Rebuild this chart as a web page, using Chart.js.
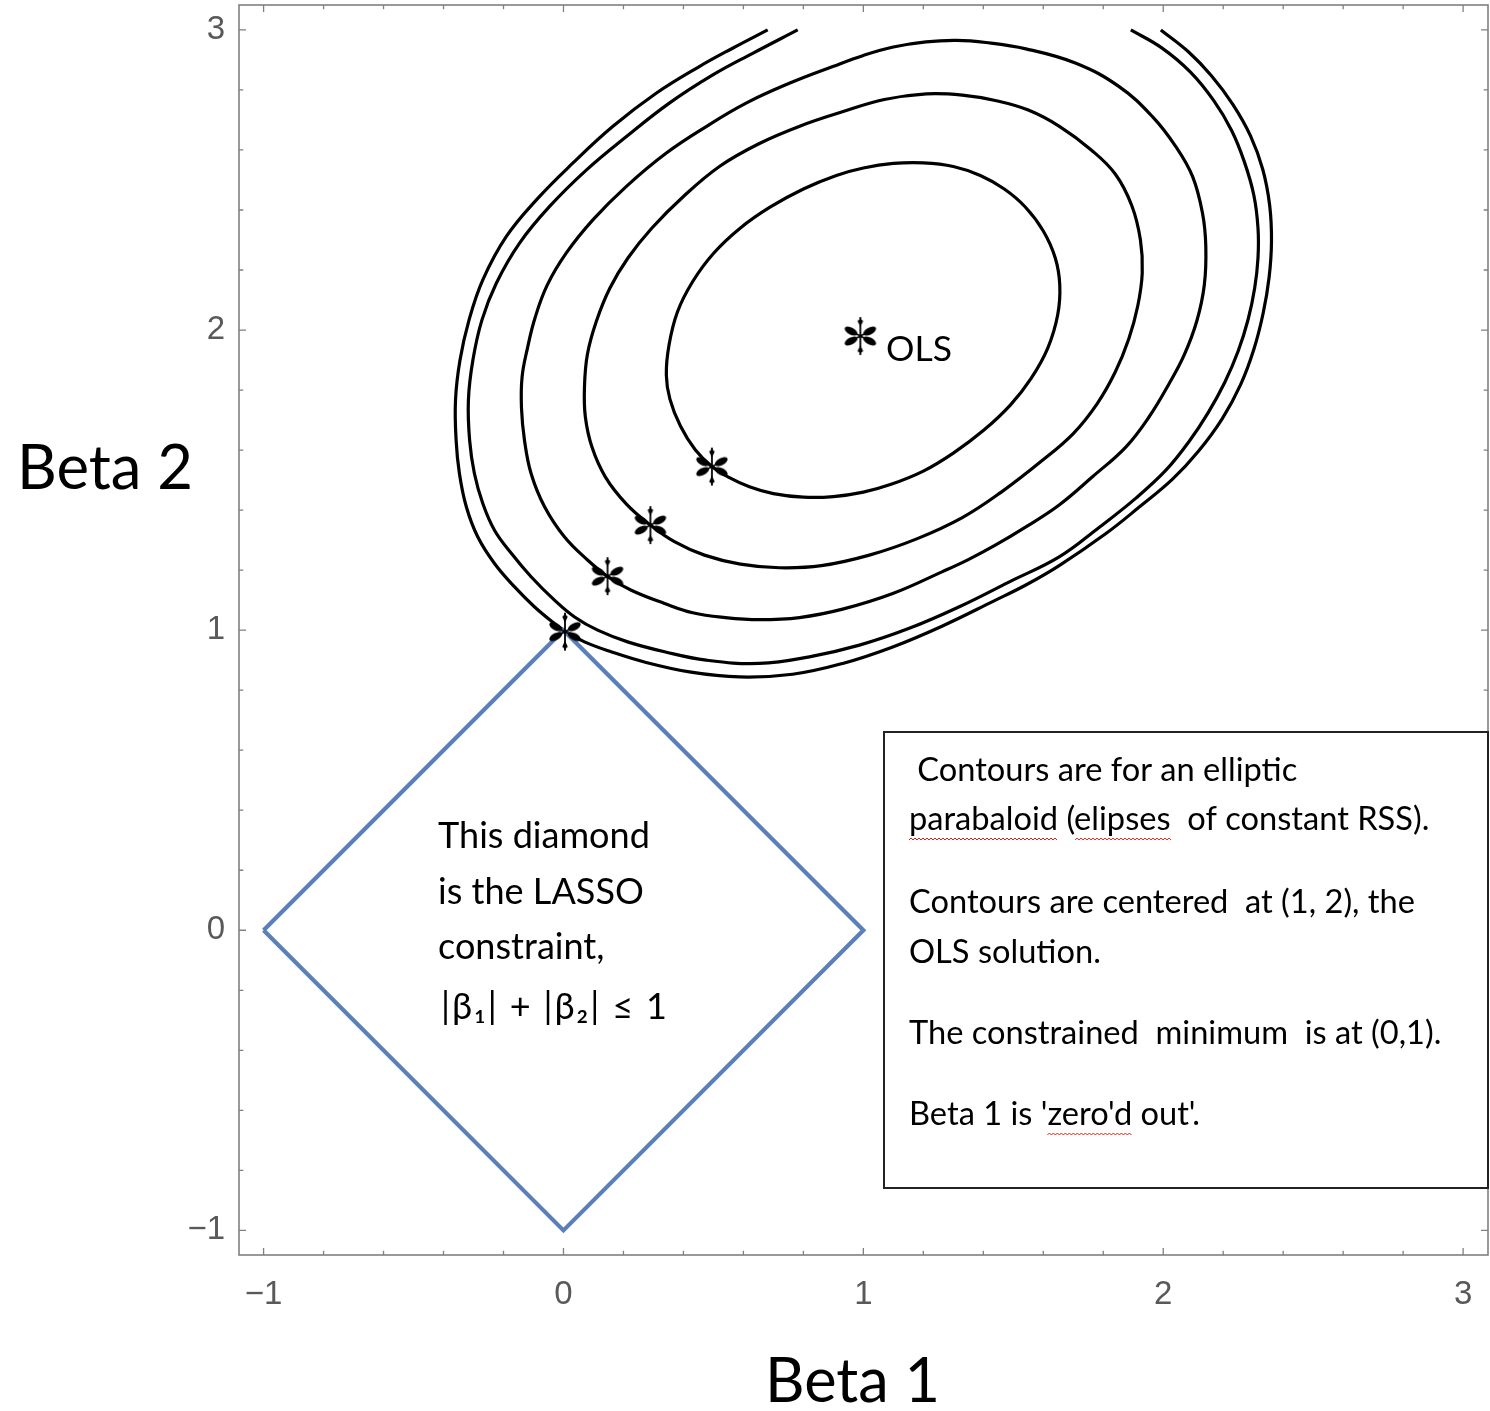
<!DOCTYPE html>
<html>
<head>
<meta charset="utf-8">
<script src="https://cdn.jsdelivr.net/npm/chart.js@4.4.1/dist/chart.umd.min.js"></script>
<style>
html,body{margin:0;padding:0;background:#ffffff;}
#wrap{position:relative;width:1490px;height:1411px;}
canvas{display:block;}
</style>
</head>
<body>
<div id="wrap"><canvas id="c" width="1490" height="1411"></canvas></div>
<script>
// ---------- data (in Beta units) ----------
const axisMin = -1.082;
const axisMax = 3.083;
const tickStep = 0.2;
const majorTicks = [-1, 0, 1, 2, 3];

// innermost RSS contour (closed)
const contour1 = [[0.343,1.85],[0.352,1.95],[0.38,2.06],[0.43,2.16],[0.5,2.255],[0.59,2.34],[0.69,2.41],[0.8,2.47],[0.91,2.515],[1.0,2.54],[1.1,2.555],[1.2,2.557],[1.3,2.545],[1.39,2.515],[1.47,2.47],[1.54,2.41],[1.6,2.33],[1.64,2.24],[1.655,2.15],[1.648,2.05],[1.615,1.94],[1.56,1.84],[1.49,1.75],[1.4,1.665],[1.3,1.59],[1.2,1.53],[1.09,1.485],[1.0,1.46],[0.9,1.445],[0.8,1.443],[0.7,1.455],[0.62,1.478],[0.55,1.51],[0.495,1.545],[0.44,1.6],[0.39,1.68],[0.355,1.77]];
// second contour (closed)
const contour2 = [[0.07,1.81],[0.08,1.92],[0.11,2.03],[0.155,2.14],[0.215,2.24],[0.295,2.34],[0.4,2.445],[0.52,2.545],[0.65,2.62],[0.79,2.68],[0.93,2.727],[1.07,2.768],[1.21,2.787],[1.33,2.783],[1.44,2.765],[1.55,2.733],[1.655,2.678],[1.76,2.6],[1.84,2.52],[1.895,2.415],[1.924,2.3],[1.93,2.19],[1.915,2.08],[1.885,1.97],[1.84,1.86],[1.78,1.755],[1.7,1.655],[1.59,1.56],[1.46,1.46],[1.33,1.375],[1.18,1.305],[1.02,1.25],[0.86,1.215],[0.72,1.208],[0.59,1.22],[0.47,1.25],[0.37,1.295],[0.29,1.35],[0.21,1.42],[0.14,1.51],[0.095,1.61],[0.073,1.71]];
// third contour (closed)
const contour3 = [[-0.138,1.844],[-0.12,1.94],[-0.095,2.04],[-0.055,2.148],[0.009,2.256],[0.098,2.367],[0.209,2.478],[0.342,2.589],[0.476,2.678],[0.609,2.756],[0.753,2.822],[0.898,2.878],[1.0,2.915],[1.1,2.943],[1.209,2.96],[1.31,2.965],[1.409,2.958],[1.542,2.937],[1.709,2.889],[1.853,2.811],[1.964,2.711],[2.042,2.611],[2.098,2.511],[2.131,2.389],[2.142,2.278],[2.137,2.15],[2.112,2.03],[2.07,1.917],[2.02,1.822],[1.953,1.711],[1.876,1.611],[1.764,1.511],[1.653,1.417],[1.542,1.344],[1.44,1.283],[1.35,1.235],[1.264,1.195],[1.098,1.122],[0.931,1.07],[0.787,1.042],[0.653,1.035],[0.54,1.042],[0.431,1.058],[0.337,1.089],[0.226,1.133],[0.148,1.178],[0.081,1.233],[0.003,1.311],[-0.063,1.411],[-0.108,1.522],[-0.13,1.633],[-0.14,1.74]];
// fourth contour (open, cut at Beta 2 = 3)
const contour4 = [[0.781,3.0],[0.631,2.922],[0.498,2.85],[0.353,2.756],[0.209,2.644],[0.076,2.533],[-0.047,2.411],[-0.147,2.289],[-0.224,2.156],[-0.272,2.033],[-0.302,1.9],[-0.317,1.767],[-0.313,1.633],[-0.297,1.522],[-0.269,1.422],[-0.23,1.333],[-0.174,1.256],[-0.108,1.178],[-0.03,1.1],[0.037,1.044],[0.114,1.0],[0.214,0.961],[0.337,0.928],[0.476,0.9],[0.653,0.889],[0.82,0.911],[0.987,0.95],[1.153,1.006],[1.32,1.078],[1.487,1.161],[1.653,1.244],[1.787,1.343],[1.909,1.44],[2.009,1.533],[2.085,1.627],[2.15,1.725],[2.205,1.825],[2.25,1.93],[2.283,2.035],[2.305,2.14],[2.316,2.24],[2.316,2.34],[2.302,2.45],[2.27,2.562],[2.228,2.665],[2.168,2.765],[2.09,2.86],[1.995,2.94],[1.892,3.0]];
// outermost contour (open, cut at Beta 2 = 3)
const contour5 = [[0.681,3.0],[0.564,2.939],[0.453,2.878],[0.309,2.789],[0.164,2.678],[0.031,2.556],[-0.091,2.433],[-0.191,2.311],[-0.269,2.167],[-0.315,2.033],[-0.345,1.9],[-0.36,1.767],[-0.358,1.633],[-0.347,1.522],[-0.324,1.411],[-0.286,1.311],[-0.23,1.222],[-0.163,1.144],[-0.097,1.078],[-0.03,1.022],[0.009,0.994],[0.07,0.961],[0.159,0.928],[0.27,0.894],[0.42,0.861],[0.587,0.844],[0.764,0.853],[0.931,0.889],[1.098,0.944],[1.264,1.014],[1.431,1.095],[1.545,1.152],[1.653,1.215],[1.809,1.322],[1.92,1.41],[2.031,1.503],[2.118,1.597],[2.197,1.705],[2.258,1.818],[2.302,1.935],[2.333,2.055],[2.353,2.175],[2.361,2.295],[2.355,2.415],[2.332,2.535],[2.291,2.647],[2.232,2.752],[2.16,2.848],[2.083,2.928],[1.992,3.0]];
// LASSO diamond |b1|+|b2| <= 1
const diamondX = [-1, 0, 1, 0, -1];
const diamondY = [0, 1, 0, -1, 0];
// asterisk markers: OLS solution and tangent points
const starX = [0.99, 0.495, 0.29, 0.147, 0.005];
const starY = [1.98, 1.545, 1.35, 1.18, 0.995];

// ---------- texts ----------
const xTitle = 'Beta 1';
const yTitle = 'Beta 2';
const olsLabel = 'OLS';
const diamondLines = ['This diamond', 'is the LASSO', 'constraint,', '|\u03B2\u2081| + |\u03B2\u2082| \u2264 1'];
const boxLines = [' Contours are for an elliptic', 'parabaloid (elipses  of constant RSS).', 'Contours are centered  at (1, 2), the', 'OLS solution.', 'The constrained  minimum  is at (0,1).', "Beta 1 is 'zero'd out'."];

// plot frame in page pixels
const AREA = {left: 239, right: 1488, top: 5, bottom: 1255};

const toXY = arr => arr.map(p => ({x: p[0], y: p[1]}));
// closed curve: wrap one point on each side; the two one-sided end segments are hidden
const closedXY = arr => toXY([arr[arr.length - 1]].concat(arr, [arr[0], arr[1]]));
const zip = (xs, ys) => xs.map((v, i) => ({x: v, y: ys[i]}));

// asterisk glyph used as point style
function makeStar() {
  const c = document.createElement('canvas');
  c.width = 46; c.height = 46;
  const g = c.getContext('2d');
  g.translate(23, 23);
  g.fillStyle = '#000'; g.strokeStyle = '#000';
  const arms = [90, 270, 28, 152, 208, 332];
  arms.forEach((a, i) => {
    g.save();
    g.rotate(-a * Math.PI / 180);
    g.lineWidth = 1.8;
    g.beginPath(); g.moveTo(0, 0); g.lineTo(i < 2 ? 19 : 17, 0); g.stroke();
    g.beginPath();
    if (i < 2) {
      g.moveTo(9, 0); g.lineTo(15, -2.8); g.lineTo(17.5, 0); g.lineTo(15, 2.8); g.closePath();
    } else {
      g.ellipse(10.5, 0, 7, 3.5, 0, 0, Math.PI * 2);
    }
    g.fill();
    g.restore();
  });
  return c;
}
const starImg = makeStar();

const FONT = "Lato, 'Noto Sans', 'DejaVu Sans', sans-serif";
function fit(ctx, text, target, weight) {
  ctx.font = (weight || 'normal') + ' 100px ' + FONT;
  return 100 * target / ctx.measureText(text).width;
}
function squiggle(ctx, x0, x1, y) {
  ctx.save();
  ctx.strokeStyle = '#e0201c';
  ctx.lineWidth = 1;
  ctx.beginPath();
  let up = true;
  ctx.moveTo(x0, y);
  for (let x = x0 + 2; x <= x1; x += 2) { ctx.lineTo(x, up ? y - 2 : y); up = !up; }
  ctx.stroke();
  ctx.restore();
}

// pin the plot frame exactly where the reference has it
const fixArea = {
  id: 'fixArea',
  afterLayout(chart) {
    const a = chart.chartArea, x = chart.scales.x, y = chart.scales.y;
    a.left = AREA.left; a.right = AREA.right; a.top = AREA.top; a.bottom = AREA.bottom;
    a.width = a.right - a.left; a.height = a.bottom - a.top;
    x.left = AREA.left; x.right = AREA.right; x.width = x.right - x.left; x.configure();
    y.top = AREA.top; y.bottom = AREA.bottom; y.height = y.bottom - y.top; y.configure();
  }
};

const decor = {
  id: 'decor',
  afterDraw(chart) {
    const {ctx, chartArea: a, scales} = chart;
    const sx = scales.x, sy = scales.y;
    ctx.save();
    // frame
    ctx.strokeStyle = '#808080';
    ctx.lineWidth = 1.6;
    ctx.strokeRect(a.left, a.top, a.right - a.left, a.bottom - a.top);
    // inward ticks on all four sides
    ctx.lineWidth = 1.3;
    const isMajor = v => Math.abs(v - Math.round(v)) < 1e-6;
    ctx.beginPath();
    sx.ticks.forEach(t => {
      const p = sx.getPixelForValue(t.value);
      const L = isMajor(t.value) ? 7 : 4.3;
      ctx.moveTo(p, a.bottom); ctx.lineTo(p, a.bottom - L);
      ctx.moveTo(p, a.top); ctx.lineTo(p, a.top + L);
    });
    sy.ticks.forEach(t => {
      const p = sy.getPixelForValue(t.value);
      const L = isMajor(t.value) ? 7 : 4.3;
      ctx.moveTo(a.left, p); ctx.lineTo(a.left + L, p);
      ctx.moveTo(a.right, p); ctx.lineTo(a.right - L, p);
    });
    ctx.stroke();

    ctx.fillStyle = '#000';
    ctx.textBaseline = 'alphabetic';
    ctx.textAlign = 'left';
    // axis titles
    let s = fit(ctx, yTitle, 176);
    ctx.font = s + 'px ' + FONT;
    ctx.fillText(yTitle, 17, 489);
    s = fit(ctx, xTitle, 175);
    ctx.font = s + 'px ' + FONT;
    ctx.fillText(xTitle, 765, 1402);

    // OLS label
    s = fit(ctx, olsLabel, 66);
    ctx.font = s + 'px ' + FONT;
    ctx.fillText(olsLabel, 886, 361);

    // diamond text
    s = fit(ctx, diamondLines[0], 212);
    ctx.font = s + 'px ' + FONT;
    const dBase = [848, 904, 959, 1019];
    for (let i = 0; i < 3; i++) ctx.fillText(diamondLines[i], 438, dBase[i]);
    const last = diamondLines[3];
    const lw = ctx.measureText(last).width;
    const extra = (226 - lw) / (Array.from(last).length - 1);
    ctx.letterSpacing = extra.toFixed(2) + 'px';
    ctx.fillText(last, 441, dBase[3]);
    ctx.letterSpacing = '0px';

    // text box
    const bx = 884, by = 732, bw = 1488 - 884, bh = 1188 - 732;
    ctx.fillStyle = '#fff';
    ctx.fillRect(bx, by, bw, bh);
    ctx.strokeStyle = '#222';
    ctx.lineWidth = 2;
    ctx.strokeRect(bx, by, bw, bh);
    const targets = [388, 521, 507, 182, 529, 297];
    const sizes = boxLines.map((t, i) => fit(ctx, t, targets[i])).sort((p, q) => p - q);
    const bs = (sizes[2] + sizes[3]) / 2;
    ctx.font = bs + 'px ' + FONT;
    ctx.fillStyle = '#000';
    const bBase = [781, 830, 913, 963, 1044, 1125];
    boxLines.forEach((t, i) => ctx.fillText(t, 909, bBase[i]));
    // spell-check squiggles
    const w = t => ctx.measureText(t).width;
    squiggle(ctx, 909, 909 + w('parabaloid'), bBase[1] + 10);
    const e0 = 909 + w('parabaloid (');
    squiggle(ctx, e0, e0 + w('elipses'), bBase[1] + 10);
    const z0 = 909 + w("Beta 1 is '");
    squiggle(ctx, z0, z0 + w("zero'd"), bBase[5] + 10);
    ctx.restore();
  }
};

const tickLabel = v => {
  const r = Math.round(v);
  if (Math.abs(v - r) > 1e-6 || !majorTicks.includes(r)) return '';
  return r < 0 ? '\u2212' + Math.abs(r) : String(r);
};

function contourDataset(label, arr, closed) {
  const data = closed ? closedXY(arr) : toXY(arr);
  const lastSeg = data.length - 2;
  return {
    label, data, showLine: true, borderColor: '#000', borderWidth: 3.2, pointRadius: 0,
    tension: 0.4, fill: false, borderJoinStyle: 'round', borderCapStyle: 'butt',
    segment: closed ? {borderColor: c => (c.p0DataIndex === 0 || c.p0DataIndex === lastSeg) ? 'rgba(0,0,0,0)' : undefined} : undefined
  };
}

new Chart(document.getElementById('c'), {
  type: 'scatter',
  data: {
    datasets: [
      {label: 'stars', data: zip(starX, starY), showLine: false, pointStyle: starImg, pointRadius: 6, pointHoverRadius: 6},
      {label: 'LASSO', data: zip(diamondX, diamondY), showLine: true, borderColor: '#5b7fb7', borderWidth: 4.2, pointRadius: 0, tension: 0, borderJoinStyle: 'miter'},
      contourDataset('c1', contour1, true),
      contourDataset('c2', contour2, true),
      contourDataset('c3', contour3, true),
      contourDataset('c4', contour4, false),
      contourDataset('c5', contour5, false)
    ]
  },
  options: {
    responsive: false,
    animation: false,
    events: [],
    layout: {padding: {top: 5, right: 2, left: 0, bottom: 0}},
    plugins: {legend: {display: false}, tooltip: {enabled: false}},
    scales: {
      x: {
        type: 'linear', min: axisMin, max: axisMax,
        grid: {display: false, drawTicks: false},
        border: {display: false},
        ticks: {stepSize: tickStep, includeBounds: false, autoSkip: false, maxRotation: 0, padding: 20,
                color: '#595959', font: {family: "'Liberation Sans', Arial, sans-serif", size: 33}, callback: tickLabel},
        afterFit(scale) { scale.height = 156; scale.paddingLeft = 0; scale.paddingRight = 0; }
      },
      y: {
        type: 'linear', min: axisMin, max: axisMax,
        grid: {display: false, drawTicks: false},
        border: {display: false},
        ticks: {stepSize: tickStep, includeBounds: false, autoSkip: false, padding: 14,
                color: '#595959', font: {family: "'Liberation Sans', Arial, sans-serif", size: 33}, callback: tickLabel},
        afterFit(scale) { scale.width = 239; scale.paddingTop = 0; scale.paddingBottom = 0; }
      }
    }
  },
  plugins: [fixArea, decor]
});
</script>
</body>
</html>
